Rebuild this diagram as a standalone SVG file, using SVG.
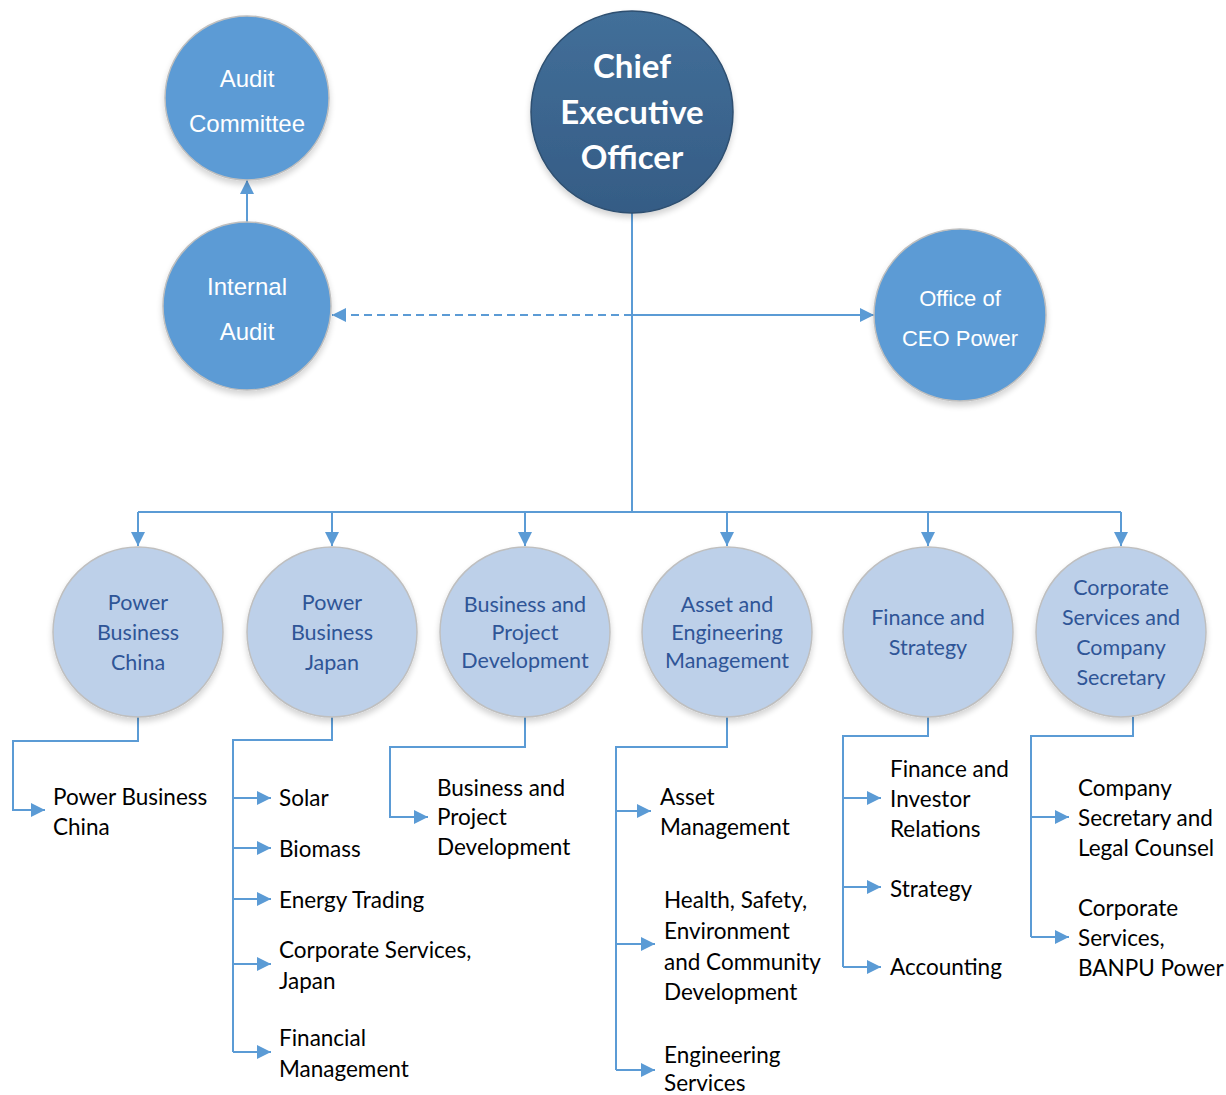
<svg xmlns="http://www.w3.org/2000/svg" width="1226" height="1095" viewBox="0 0 1226 1095">
<style>
.conn{fill:none;stroke:#5B9BD5;stroke-width:2}
.dash{stroke-dasharray:8 5}
.mid{fill:#5B9BD5;stroke:#BFBFBF;stroke-width:1.5}
.light{fill:#BDD0E9;stroke:#BFBFBF;stroke-width:1.5}
.ceo{fill:url(#ceoGrad);stroke:#2E4F70;stroke-width:1.5}
.tw{font-family:"Liberation Sans",Arial,sans-serif;fill:#fff;text-anchor:middle}
.tc{font-family:Lato,"Noto Sans",sans-serif;font-size:21.5px;fill:#2F5597;text-anchor:middle}
.tceo{font-family:Lato,"Noto Sans",sans-serif;font-weight:bold;font-size:33px;fill:#fff;text-anchor:middle}
.tl{font-family:Lato,"Noto Sans",sans-serif;font-size:22.5px;fill:#000}
</style>
<defs>
<linearGradient id="ceoGrad" x1="0" y1="0" x2="0" y2="1">
<stop offset="0" stop-color="#426F99"/>
<stop offset="1" stop-color="#355C85"/>
</linearGradient>
<filter id="sh" x="-20%" y="-20%" width="140%" height="140%">
<feGaussianBlur in="SourceAlpha" stdDeviation="3"/>
<feOffset dx="0" dy="4"/>
<feComponentTransfer><feFuncA type="linear" slope="0.18"/></feComponentTransfer>
<feMerge><feMergeNode/><feMergeNode in="SourceGraphic"/></feMerge>
</filter>
<marker id="ar" viewBox="0 0 14 14" refX="14" refY="7" markerWidth="14" markerHeight="14" markerUnits="userSpaceOnUse" orient="auto">
<path d="M0,0 L14,7 L0,14 Z" fill="#5B9BD5"/>
</marker>
</defs>
<rect width="1226" height="1095" fill="#fff"/>

<g id="connectors">
<path class="conn" d="M247,222 V180" marker-end="url(#ar)"/>
<path class="conn dash" d="M632,315 H332" marker-end="url(#ar)"/>
<path class="conn" d="M632,315 H874" marker-end="url(#ar)"/>
<path class="conn" d="M632,213 V512"/>
<path class="conn" d="M138,512 H1121"/>
<path class="conn" d="M138,512 V546" marker-end="url(#ar)"/>
<path class="conn" d="M332,512 V546" marker-end="url(#ar)"/>
<path class="conn" d="M525,512 V546" marker-end="url(#ar)"/>
<path class="conn" d="M727,512 V546" marker-end="url(#ar)"/>
<path class="conn" d="M928,512 V546" marker-end="url(#ar)"/>
<path class="conn" d="M1121,512 V546" marker-end="url(#ar)"/>
<path class="conn" d="M138,717 V741 H13 V810 H45" marker-end="url(#ar)"/>
<path class="conn" d="M332,717 V740 H233 V1052"/>
<path class="conn" d="M233,798 H271" marker-end="url(#ar)"/>
<path class="conn" d="M233,848 H271" marker-end="url(#ar)"/>
<path class="conn" d="M233,899 H271" marker-end="url(#ar)"/>
<path class="conn" d="M233,964 H271" marker-end="url(#ar)"/>
<path class="conn" d="M233,1052 H271" marker-end="url(#ar)"/>
<path class="conn" d="M525,717 V747 H390 V817 H428" marker-end="url(#ar)"/>
<path class="conn" d="M727,717 V747 H616 V1070"/>
<path class="conn" d="M616,811 H651" marker-end="url(#ar)"/>
<path class="conn" d="M616,944 H655" marker-end="url(#ar)"/>
<path class="conn" d="M616,1070 H655" marker-end="url(#ar)"/>
<path class="conn" d="M928,717 V736 H843 V967"/>
<path class="conn" d="M843,798 H881" marker-end="url(#ar)"/>
<path class="conn" d="M843,887 H881" marker-end="url(#ar)"/>
<path class="conn" d="M843,967 H881" marker-end="url(#ar)"/>
<path class="conn" d="M1133,717 V736 H1031 V937"/>
<path class="conn" d="M1031,817 H1069" marker-end="url(#ar)"/>
<path class="conn" d="M1031,937 H1069" marker-end="url(#ar)"/>
</g>

<g id="ceo">
<circle class="ceo" cx="632" cy="112" r="101" filter="url(#sh)"/>
<text class="tceo" x="632" y="78">Chief</text>
<text class="tceo" x="632" y="124">Executive</text>
<text class="tceo" x="632" y="169">Officer</text>
</g>

<g id="audit-committee">
<circle class="mid" cx="247" cy="98" r="82" filter="url(#sh)"/>
<text class="tw" x="247" y="87" font-size="24">Audit</text>
<text class="tw" x="247" y="132" font-size="24">Committee</text>
</g>

<g id="internal-audit">
<circle class="mid" cx="247" cy="306" r="84" filter="url(#sh)"/>
<text class="tw" x="247" y="295" font-size="24">Internal</text>
<text class="tw" x="247" y="340" font-size="24">Audit</text>
</g>

<g id="office-ceo">
<circle class="mid" cx="960" cy="315" r="86" filter="url(#sh)"/>
<text class="tw" x="960" y="306" font-size="22">Office of</text>
<text class="tw" x="960" y="346" font-size="22">CEO Power</text>
</g>

<g id="pb-china">
<circle class="light" cx="138" cy="632" r="85" filter="url(#sh)"/>
<text class="tc" x="138" y="610">Power</text>
<text class="tc" x="138" y="640">Business</text>
<text class="tc" x="138" y="670">China</text>
</g>

<g id="pb-japan">
<circle class="light" cx="332" cy="632" r="85" filter="url(#sh)"/>
<text class="tc" x="332" y="610">Power</text>
<text class="tc" x="332" y="640">Business</text>
<text class="tc" x="332" y="670">Japan</text>
</g>

<g id="bpd">
<circle class="light" cx="525" cy="632" r="85" filter="url(#sh)"/>
<text class="tc" x="525" y="612" font-size="20.5">Business and</text>
<text class="tc" x="525" y="640" font-size="20.5">Project</text>
<text class="tc" x="525" y="668" font-size="20.5">Development</text>
</g>

<g id="aem">
<circle class="light" cx="727" cy="632" r="85" filter="url(#sh)"/>
<text class="tc" x="727" y="612" font-size="20.5">Asset and</text>
<text class="tc" x="727" y="640" font-size="20.5">Engineering</text>
<text class="tc" x="727" y="668" font-size="20.5">Management</text>
</g>

<g id="fin">
<circle class="light" cx="928" cy="632" r="85" filter="url(#sh)"/>
<text class="tc" x="928" y="625">Finance and</text>
<text class="tc" x="928" y="655">Strategy</text>
</g>

<g id="corp">
<circle class="light" cx="1121" cy="632" r="85" filter="url(#sh)"/>
<text class="tc" x="1121" y="595">Corporate</text>
<text class="tc" x="1121" y="625">Services and</text>
<text class="tc" x="1121" y="655">Company</text>
<text class="tc" x="1121" y="685">Secretary</text>
</g>

<g id="list-china">
<text class="tl" x="53" y="805">Power Business</text>
<text class="tl" x="53" y="835">China</text>
</g>

<g id="list-japan">
<text class="tl" x="279" y="806">Solar</text>
<text class="tl" x="279" y="857">Biomass</text>
<text class="tl" x="279" y="908">Energy Trading</text>
<text class="tl" x="279" y="958">Corporate Services,</text>
<text class="tl" x="279" y="989">Japan</text>
<text class="tl" x="279" y="1046">Financial</text>
<text class="tl" x="279" y="1077">Management</text>
</g>

<g id="list-bpd">
<text class="tl" x="437" y="796">Business and</text>
<text class="tl" x="437" y="825">Project</text>
<text class="tl" x="437" y="855">Development</text>
</g>

<g id="list-asset">
<text class="tl" x="660" y="805">Asset</text>
<text class="tl" x="660" y="835">Management</text>
<text class="tl" x="664" y="908">Health, Safety,</text>
<text class="tl" x="664" y="939">Environment</text>
<text class="tl" x="664" y="970">and Community</text>
<text class="tl" x="664" y="1000">Development</text>
<text class="tl" x="664" y="1063">Engineering</text>
<text class="tl" x="664" y="1091">Services</text>
</g>

<g id="list-fin">
<text class="tl" x="890" y="777">Finance and</text>
<text class="tl" x="890" y="807">Investor</text>
<text class="tl" x="890" y="837">Relations</text>
<text class="tl" x="890" y="897">Strategy</text>
<text class="tl" x="890" y="975">Accounting</text>
</g>

<g id="list-corp">
<text class="tl" x="1078" y="796">Company</text>
<text class="tl" x="1078" y="826">Secretary and</text>
<text class="tl" x="1078" y="856">Legal Counsel</text>
<text class="tl" x="1078" y="916">Corporate</text>
<text class="tl" x="1078" y="946">Services,</text>
<text class="tl" x="1078" y="976">BANPU Power</text>
</g>
</svg>
